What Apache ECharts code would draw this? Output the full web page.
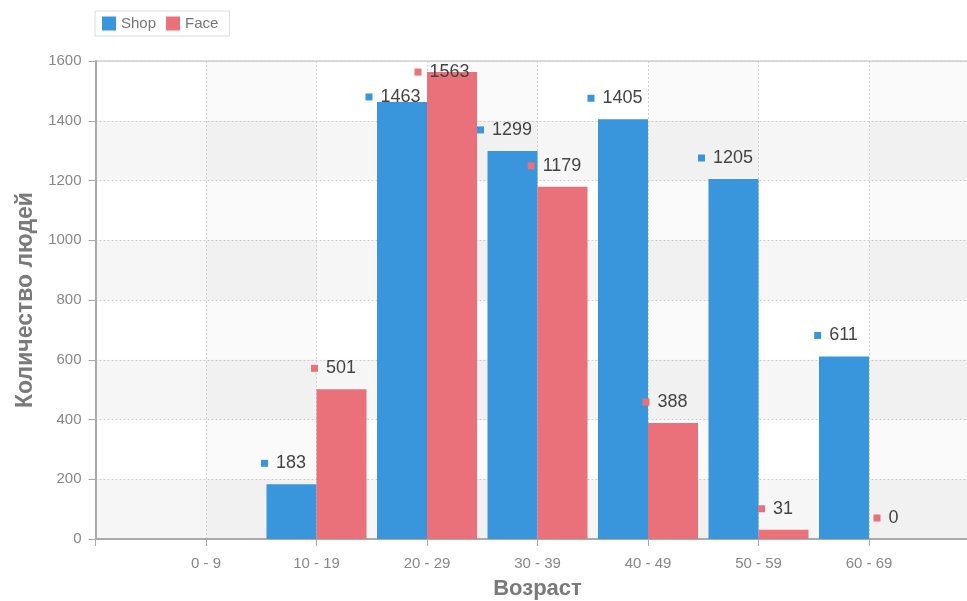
<!DOCTYPE html>
<html>
<head>
<meta charset="utf-8">
<script src="https://cdn.jsdelivr.net/npm/echarts@6.0.0/dist/echarts.min.js"></script>
<style>
html,body{margin:0;padding:0;background:#fff;}
#c{width:967px;height:601px;}
</style>
</head>
<body>
<div id="c"></div>
<script>
const categories = ['', '0 - 9', '10 - 19', '20 - 29', '30 - 39', '40 - 49', '50 - 59', '60 - 69', ''];
const shopValues = ['-', '-', 183, 1463, 1299, 1405, 1205, 611, '-'];
const faceValues = ['-', '-', 501, 1563, 1179, 388, 31, 0, '-'];
const yTicks = [0, 200, 400, 600, 800, 1000, 1200, 1400, 1600];

const SHOP = '#3996dc';
const FACE = '#ea7179';
const FONT = '"Liberation Sans", Arial, sans-serif';

// label placement tweaks (avoid overlapping labels near the top)
const labelShift = { shop: { 3: [16, -5] }, face: { 3: [15, 0] } };

function labelFor(color) {
  return {
    show: true,
    position: [17, -21],
    align: 'center',
    verticalAlign: 'middle',
    formatter: function (p) { return '{m|}{v|' + p.value + '}'; },
    rich: {
      m: { width: 7, height: 7, backgroundColor: color, verticalAlign: 'middle' },
      v: { fontSize: 18, fontFamily: FONT, color: '#444', padding: [0, 0, 0, 8], verticalAlign: 'middle' }
    }
  };
}

function buildData(values, key) {
  return values.map(function (v, i) {
    if (labelShift[key][i]) {
      return { value: v, label: { position: labelShift[key][i] } };
    }
    return v;
  });
}

const chart = echarts.init(document.getElementById('c'), null, { renderer: 'canvas' });
chart.setOption({
  animation: false,
  backgroundColor: '#fff',
  legend: {
    left: 95,
    top: 11,
    padding: [5, 11, 5, 7],
    borderColor: '#dcdcdc',
    borderWidth: 1,
    backgroundColor: '#fff',
    itemWidth: 14,
    itemHeight: 14,
    itemGap: 10,
    icon: 'rect',
    textStyle: { fontSize: 15, fontFamily: FONT, color: '#777' },
    data: ['Shop', 'Face']
  },
  grid: {
    left: 95.5,
    top: 61,
    height: 478,
    width: 884,
    show: true,
    borderColor: '#bbb',
    borderWidth: 1,
    containLabel: false,
    outerBoundsMode: 'none'
  },
  xAxis: {
    type: 'category',
    data: categories,
    boundaryGap: false,
    name: 'Возраст',
    nameLocation: 'middle',
    nameGap: 39,
    nameTextStyle: { fontSize: 22, fontWeight: 'bold', fontFamily: FONT, color: '#7a7a7a' },
    axisLine: { show: true, lineStyle: { color: '#aaa', width: 2 } },
    axisTick: { show: true, length: 7, lineStyle: { color: '#aaa' } },
    axisLabel: { margin: 17, fontSize: 15, fontFamily: FONT, color: '#888', interval: 0 },
    splitLine: { show: true, interval: 0, lineStyle: { color: '#d0d0d0', type: [2, 2] } },
    splitArea: { show: true, interval: 0, areaStyle: { color: ['rgba(0,0,0,0)', 'rgba(0,0,0,0.018)'] } }
  },
  yAxis: {
    type: 'value',
    min: yTicks[0],
    max: yTicks[yTicks.length - 1],
    interval: yTicks[1] - yTicks[0],
    name: 'Количество людей',
    nameLocation: 'middle',
    nameGap: 55,
    nameRotate: 90,
    nameTextStyle: { fontSize: 23, fontWeight: 'bold', fontFamily: FONT, color: '#7a7a7a' },
    axisLine: { show: true, lineStyle: { color: '#aaa', width: 2 } },
    axisTick: { show: true, length: 7, lineStyle: { color: '#aaa' } },
    axisLabel: { margin: 14, fontSize: 15, fontFamily: FONT, color: '#888', formatter: function (v) { return String(v); } },
    splitLine: { show: true, lineStyle: { color: '#d0d0d0', type: [2, 2] } },
    splitArea: { show: true, areaStyle: { color: ['rgba(0,0,0,0.035)', 'rgba(0,0,0,0)'] } }
  },
  series: [
    {
      name: 'Shop',
      type: 'bar',
      barWidth: 50,
      barGap: '0%',
      itemStyle: { color: SHOP },
      label: labelFor(SHOP),
      data: buildData(shopValues, 'shop')
    },
    {
      name: 'Face',
      type: 'bar',
      barWidth: 50,
      barGap: '0%',
      itemStyle: { color: FACE },
      label: labelFor(FACE),
      data: buildData(faceValues, 'face')
    }
  ]
});
</script>
</body>
</html>
